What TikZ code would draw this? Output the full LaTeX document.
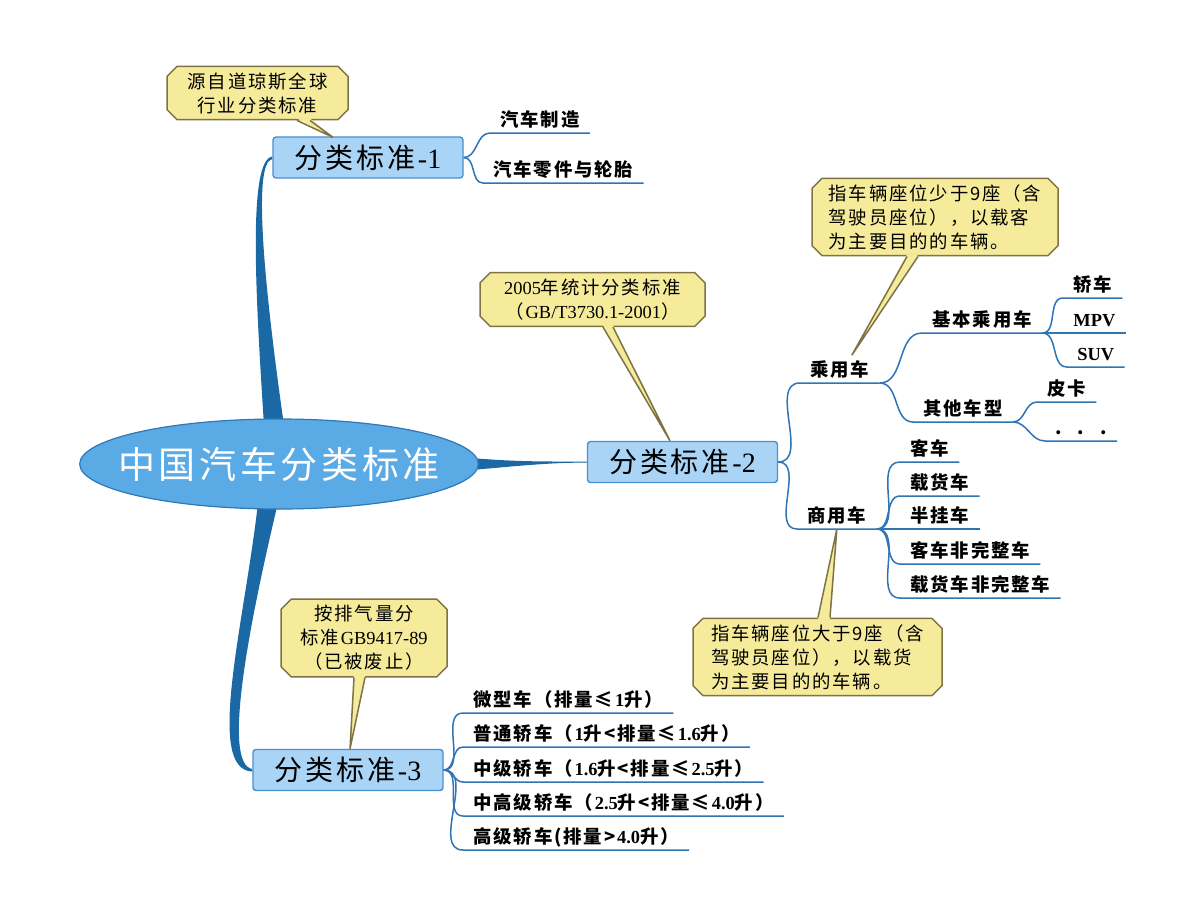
\documentclass[tikz,border=0pt]{standalone}
\usepackage{fontspec}
\setmainfont{Liberation Serif}
\newfontfamily\cjk[LetterSpace=10]{Noto Sans CJK SC}
\usetikzlibrary{backgrounds}
\usetikzlibrary{shapes.geometric,shapes.misc,calc}
\definecolor{rootblue}{HTML}{5AAAE6}
\definecolor{rootline}{HTML}{2E78B8}
\definecolor{trunkblue}{HTML}{1A68A4}
\definecolor{boxblue}{HTML}{A9D4F6}
\definecolor{boxline}{HTML}{4A90D0}
\definecolor{twigblue}{HTML}{2F74B5}
\definecolor{noteyellow}{HTML}{F5EB9B}
\definecolor{noteline}{HTML}{7D7345}
\tikzset{root/.style={ellipse,fill=rootblue,draw=rootline,line width=0.6pt,
  inner xsep=-10pt,inner ysep=5pt,
  minimum width=199pt,minimum height=45pt,text=white,
  font=\cjk\fontsize{18.5}{22}\selectfont},
 trunk/.style={fill=trunkblue},
 std/.style={rectangle,rounded corners=1.5pt,fill=boxblue,draw=boxline,
  line width=0.7pt,minimum width=95pt,minimum height=20.5pt,
  font=\cjk\fontsize{14}{17}\selectfont},
 leaf/.style={anchor=south west,inner xsep=5pt,inner ysep=1.5pt,
  text height=8pt,text depth=1.5pt,font=\cjk\bfseries\fontsize{9.2}{11}\selectfont},
 twig/.style={draw=twigblue,line width=0.75pt},
 note/.style={chamfered rectangle,chamfered rectangle xsep=2pt,fill=noteyellow,
  draw=noteline,line width=0.75pt,inner xsep=2pt,inner ysep=0pt,
  font=\cjk\fontsize{9.2}{12}\selectfont},
 tipfill/.style={fill=noteyellow},
 tipline/.style={draw=noteline,line width=0.75pt},
 }
\begin{document}
\begin{tikzpicture}[x=0.5pt,y=-0.5pt]
        \useasboundingbox (0,0) rectangle (1200,900);
        \node[root] (root) at (279,464) {中国汽车分类标准};
        \node[std] (s1) at (368,157.5) {分类标准\textrm{-1}};
        \node[std] (s2) at (682.5,462) {分类标准\textrm{-2}};
        \node[std] (s3) at (348,770) {分类标准\textrm{-3}};

        \begin{scope}[on background layer]
        \fill[white] (0,0) rectangle (1200,900);
        \fill[trunk] ($(root.north)+(-15,7)$) .. controls ($(root.north)+(-23,-119)$) and ($(s1.west)+(-25,2.5)$) .. ($(s1.west)+(0,-1)$)
            -- ($(s1.west)+(0,1.5)$) .. controls ($(s1.west)+(-21,4.5)$) and ($(root.north)+(-13,-119)$) .. ($(root.north)+(5,7)$) -- cycle;
        \fill[trunk] ($(root.east)+(-8,-6)$) .. controls ($(root.east)+(40,-2)$) and ($(s2.west)+(-40,-0.5)$) .. ($(s2.west)+(0,-0.5)$)
            -- ($(s2.west)+(0,0.6)$) .. controls ($(s2.west)+(-40,0.6)$) and ($(root.east)+(40,2)$) .. ($(root.east)+(-8,6)$) -- cycle;
        \fill[trunk] ($(root.south)+(-21,-7)$) .. controls ($(root.south)+(-34,111)$) and ($(s3.west)+(-48,0)$) .. ($(s3.west)+(0,1.5)$)
            -- ($(s3.west)+(0,-1)$) .. controls ($(s3.west)+(-31,-6)$) and ($(root.south)+(-29,111)$) .. ($(root.south)+(-1,-7)$) -- cycle;
        \end{scope}

        % standard 1
        \node[leaf] (a1) at (490,133) {汽车制造};
        \node[leaf] (a2) at (483,183) {汽车零件与轮胎};
        \draw[twig] (s1.east) to[out=0,in=180] (a1.south west) -- (a1.south east);
        \draw[twig] (s1.east) to[out=0,in=180] (a2.south west) -- (a2.south east);

        % standard 2
        \node[leaf] (b1) at (800,383) {乘用车};
        \node[leaf] (b2) at (797,529) {商用车};
        \node[leaf] (b11) at (922,333) {基本乘用车};
        \node[leaf] (b12) at (913,422) {其他车型};
        \node[leaf] (b111) at (1063,298) {轿车};
        \node[leaf] (b112) at (1063,333) {\textrm{MPV}};
        \node[leaf] (b113) at (1067,367) {\textrm{SUV}};
        \node[leaf] (b121) at (1037,402) {皮卡};
        \node[leaf] (b122) at (1045,441) {.\hspace{8pt}.\hspace{8pt}.};
        \node[leaf] (b21) at (900,462) {客车};
        \node[leaf] (b22) at (900,496) {载货车};
        \node[leaf] (b23) at (900,529) {半挂车};
        \node[leaf] (b24) at (900,564) {客车非完整车};
        \node[leaf] (b25) at (900,598) {载货车非完整车};
        \draw[twig] (s2.east) to[out=0,in=180] (b1.south west) -- (b1.south east);
        \draw[twig] (s2.east) to[out=0,in=180] (b2.south west) -- (b2.south east);
        \draw[twig] (b1.south east) to[out=0,in=180] (b11.south west) -- (b11.south east);
        \draw[twig] (b1.south east) to[out=0,in=180] (b12.south west) -- (b12.south east);
        \draw[twig] (b11.south east) to[out=0,in=180] (b111.south west) -- (b111.south east);
        \draw[twig] (b11.south east) to[out=0,in=180] (b112.south west) -- (b112.south east);
        \draw[twig] (b11.south east) to[out=0,in=180] (b113.south west) -- (b113.south east);
        \draw[twig] (b12.south east) to[out=0,in=180] (b121.south west) -- (b121.south east);
        \draw[twig] (b12.south east) to[out=0,in=180] (b122.south west) -- (b122.south east);
        \draw[twig] (b2.south east) to[out=0,in=180] (b21.south west) -- (b21.south east);
        \draw[twig] (b2.south east) to[out=0,in=180] (b22.south west) -- (b22.south east);
        \draw[twig] (b2.south east) to[out=0,in=180] (b23.south west) -- (b23.south east);
        \draw[twig] (b2.south east) to[out=0,in=180] (b24.south west) -- (b24.south east);
        \draw[twig] (b2.south east) to[out=0,in=180] (b25.south west) -- (b25.south east);

        % standard 3
        \node[leaf] (c1) at (463,713) {微型车（排量≤\textrm{1}升）};
        \node[leaf] (c2) at (463,747) {普通轿车（\textrm{1}升<排量≤\textrm{1.6}升）};
        \node[leaf] (c3) at (463,782) {中级轿车（\textrm{1.6}升<排量≤\textrm{2.5}升）};
        \node[leaf] (c4) at (463,816) {中高级轿车（\textrm{2.5}升<排量≤\textrm{4.0}升）};
        \node[leaf] (c5) at (463,850) {高级轿车(排量>\textrm{4.0}升）};
        \draw[twig] (s3.east) to[out=0,in=180] (c1.south west) -- (c1.south east);
        \draw[twig] (s3.east) to[out=0,in=180] (c2.south west) -- (c2.south east);
        \draw[twig] (s3.east) to[out=0,in=180] (c3.south west) -- (c3.south east);
        \draw[twig] (s3.east) to[out=0,in=180] (c4.south west) -- (c4.south east);
        \draw[twig] (s3.east) to[out=0,in=180] (c5.south west) -- (c5.south east);

        % notes
        \node[note,minimum width=90.5pt,minimum height=25pt,align=center] (n1) at (257.5,93) {源自道琼斯全球\\行业分类标准};
        \node[note,minimum width=112.5pt,minimum height=24.5pt,align=center] (n2) at (592.5,299.5) {\textrm{2005}年统计分类标准\\（\textrm{GB/T3730.1-2001}）};
        \node[note,minimum width=123pt,minimum height=37pt,align=left] (n3) at (935,217) {指车辆座位少于9座（含\\驾驶员座位），以载客\\为主要目的的车辆。};
        \node[note,minimum width=124.5pt,minimum height=37pt,align=left] (n4) at (817.5,657) {指车辆座位大于9座（含\\驾驶员座位），以载货\\为主要目的的车辆。};
        \node[note,minimum width=83pt,minimum height=38pt,align=center] (n5) at (364,638) {按排气量分\\标准\textrm{GB9417-89}\\（已被废止）};

        \fill[tipfill] ($(n1.south)+(39.5,-2)$) -- ($(s1.north)+(-35,1)$) -- ($(n1.south)+(52.5,-2)$) -- cycle;
        \draw[tipline] ($(n1.south)+(39.5,0)$) -- ($(s1.north)+(-35,1)$) -- ($(n1.south)+(52.5,0)$);
        \fill[tipfill] ($(n2.south)+(10.5,-2)$) -- ($(s2.north)+(-12.5,0)$) -- ($(n2.south)+(20.5,-2)$) -- cycle;
        \draw[tipline] ($(n2.south)+(10.5,0)$) -- ($(s2.north)+(-12.5,0)$) -- ($(n2.south)+(20.5,0)$);
        \fill[tipfill] ($(n3.south)+(-28,-2)$) -- ($(b1.north)+(12,-2)$) -- ($(n3.south)+(-17,-2)$) -- cycle;
        \draw[tipline] ($(n3.south)+(-28,0)$) -- ($(b1.north)+(12,-2)$) -- ($(n3.south)+(-17,0)$);
        \fill[tipfill] ($(n4.north)+(0.5,2)$) -- (b2.south) -- ($(n4.north)+(12.5,2)$) -- cycle;
        \draw[tipline] ($(n4.north)+(0.5,0)$) -- (b2.south) -- ($(n4.north)+(12.5,0)$);
        \fill[tipfill] ($(n5.south)+(-10,-2)$) -- ($(s3.north)+(2,0)$) -- ($(n5.south)+(1,-2)$) -- cycle;
        \draw[tipline] ($(n5.south)+(-10,0)$) -- ($(s3.north)+(2,0)$) -- ($(n5.south)+(1,0)$);
\end{tikzpicture}
\end{document}
